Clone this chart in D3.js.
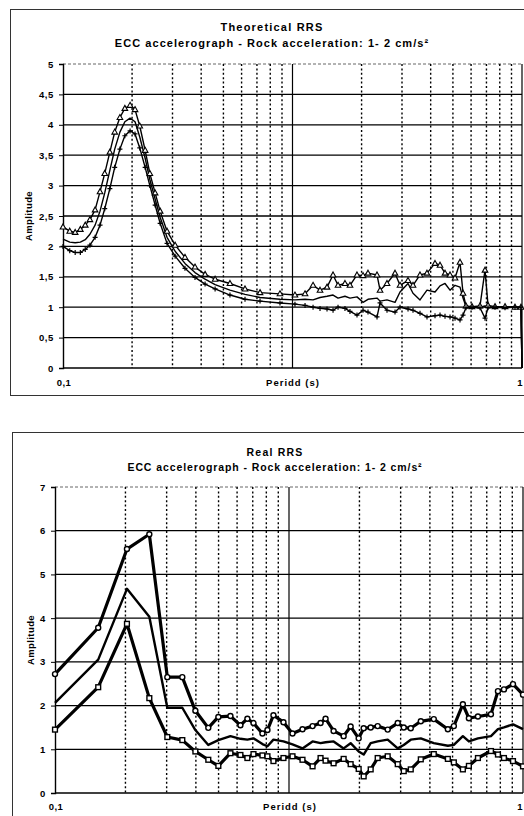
<!DOCTYPE html>
<html><head><meta charset="utf-8">
<script src="https://cdn.jsdelivr.net/npm/d3@7"></script>
<style>
body{margin:0;background:#fff}
svg{display:block}
text{font-family:"Liberation Sans",Arial,sans-serif;font-weight:bold;fill:#000}
</style>
</head><body>
<svg id="c" width="524" height="816"></svg>
<script>
// ---------- Theoretical RRS ----------
const topPeriods=[0.100,0.107,0.113,0.119,0.125,0.131,0.138,0.145,0.152,0.160,0.168,0.177,0.186,0.196,0.206,0.216,0.228,0.239,0.252,0.265,0.284,0.308,0.340,0.376,0.416,0.460,0.534,0.621,0.722,0.882,1.025,1.134,1.229,1.318,1.414,1.502,1.579,1.693,1.780,1.910,2.029,2.133,2.335,2.407,2.581,2.797,2.941,3.187,3.350,3.594,3.855,4.178,4.393,4.619,4.857,5.107,5.369,5.534,5.702,6.055,6.561,6.900,7.111,7.627,8.433,9.322,9.90,10.0];
const topUpper=[2.32,2.25,2.23,2.28,2.35,2.44,2.60,2.90,3.20,3.55,3.88,4.12,4.27,4.32,4.25,3.98,3.58,3.20,2.88,2.58,2.25,2.02,1.82,1.66,1.54,1.46,1.39,1.30,1.24,1.22,1.20,1.22,1.36,1.28,1.33,1.53,1.36,1.39,1.36,1.53,1.52,1.56,1.53,1.28,1.39,1.56,1.36,1.44,1.36,1.53,1.56,1.72,1.69,1.56,1.53,1.48,1.74,1.23,1.02,1.01,1.02,1.61,1.03,1.01,1.01,1.00,1.00,0];
const topMiddle=[2.12,2.07,2.06,2.07,2.11,2.20,2.35,2.58,2.88,3.25,3.60,3.88,4.05,4.11,4.05,3.80,3.45,3.10,2.78,2.48,2.15,1.92,1.72,1.57,1.46,1.37,1.28,1.21,1.16,1.13,1.12,1.13,1.12,1.16,1.18,1.20,1.15,1.18,1.15,1.17,1.08,1.13,1.15,1.10,1.12,1.08,1.25,1.39,1.23,1.12,1.28,1.25,1.35,1.39,1.28,1.36,1.33,1.15,1.01,1.00,1.00,1.02,1.00,1.00,1.00,1.00,1.00,0];
const topLower=[2.00,1.93,1.90,1.90,1.95,2.02,2.15,2.35,2.62,2.95,3.30,3.60,3.82,3.90,3.85,3.62,3.30,3.00,2.68,2.38,2.05,1.84,1.64,1.49,1.38,1.30,1.20,1.13,1.10,1.07,1.05,1.03,1.00,0.98,0.97,0.95,1.00,0.98,0.93,0.87,0.95,0.92,0.84,1.07,0.95,0.92,1.00,0.97,0.95,0.90,0.84,0.86,0.87,0.85,0.84,0.82,0.79,0.87,0.99,1.00,0.99,0.82,0.99,1.00,0.99,1.00,1.00,0];
const topYTicks=[0,0.5,1,1.5,2,2.5,3,3.5,4,4.5,5];

// ---------- Real RRS ----------
const botPeriods=[0.100,0.153,0.203,0.253,0.302,0.350,0.398,0.452,0.499,0.562,0.620,0.664,0.705,0.770,0.809,0.858,0.947,1.035,1.142,1.261,1.364,1.433,1.551,1.712,1.834,1.985,2.085,2.234,2.393,2.641,2.915,3.093,3.314,3.658,4.157,4.774,5.064,5.534,5.871,6.418,7.295,7.815,8.290,9.062,10.0];
const botUpper=[2.72,3.78,5.58,5.92,2.65,2.65,1.88,1.49,1.74,1.76,1.55,1.70,1.60,1.36,1.44,1.78,1.62,1.36,1.46,1.53,1.60,1.70,1.42,1.30,1.52,1.25,1.48,1.50,1.53,1.45,1.60,1.50,1.48,1.64,1.69,1.46,1.53,2.03,1.71,1.75,1.80,2.33,2.37,2.49,2.25];
const botMiddle=[2.06,3.05,4.67,4.03,1.95,1.95,1.44,1.10,1.21,1.30,1.24,1.22,1.25,1.12,1.07,1.22,1.18,1.11,1.02,1.18,1.14,1.16,1.18,1.02,1.14,0.95,0.88,1.14,1.18,1.22,1.02,1.10,1.22,1.25,1.14,1.08,1.10,1.30,1.18,1.25,1.30,1.46,1.50,1.57,1.46];
const botLower=[1.45,2.42,3.87,2.17,1.28,1.21,0.95,0.76,0.62,0.91,0.87,0.80,0.89,0.86,0.84,0.73,0.80,0.84,0.76,0.61,0.80,0.74,0.68,0.78,0.66,0.55,0.38,0.54,0.80,0.84,0.66,0.50,0.54,0.77,0.89,0.78,0.70,0.54,0.62,0.80,0.96,0.88,0.80,0.73,0.61];
const botYTicks=[0,1,2,3,4,5,6,7];

const xMinor=[0.2,0.3,0.4,0.5,0.6,0.7,0.8,0.9,2,3,4,5,6,7,8,9];
const xMajor=[1,10];
const xTickLabels=[[0.1,"0,1"],[10,"1"]];
const xTitle="Peridd (s)", yTitle="Amplitude";
const subTitle="ECC accelerograph - Rock acceleration: 1- 2 cm/s²";

const fmt=d3.formatLocale({decimal:",",thousands:".",grouping:[3],currency:["",""]}).format(".1~f");
const svg=d3.select("#c");

function triangle(g,cx,cy){g.append("path").attr("d",`M${cx},${cy-3}L${cx+2.8},${cy+2}L${cx-2.8},${cy+2}Z`).attr("fill","#fff").attr("stroke","#000").attr("stroke-width",1.1);}
function plus(g,cx,cy){g.append("path").attr("d",`M${cx-2.5},${cy}H${cx+2.5}M${cx},${cy-2.5}V${cy+2.5}`).attr("stroke","#000").attr("stroke-width",1.2);}
function circle(g,cx,cy){g.append("circle").attr("cx",cx).attr("cy",cy).attr("r",2.5).attr("fill","#fff").attr("stroke","#000").attr("stroke-width",1.4);}
function square(g,cx,cy){g.append("rect").attr("x",cx-2.4).attr("y",cy-2.4).attr("width",4.8).attr("height",4.8).attr("fill","#fff").attr("stroke","#000").attr("stroke-width",1.4);}

function chart(c){
  const g=svg.append("g");
  g.append("rect").attr("x",c.frame[0]+0.5).attr("y",c.frame[1]+0.5).attr("width",c.frame[2]).attr("height",c.frame[3])
    .attr("fill","none").attr("stroke","#333").attr("stroke-width",1);
  const x=d3.scaleLog().domain([0.1,10]).range([c.left,c.right]);
  const y=d3.scaleLinear().domain([0,c.yMax]).range([c.bottom,c.top]);
  g.append("text").attr("x",c.tx).attr("y",c.t1y).attr("text-anchor","middle").attr("font-size",c.tfs).attr("letter-spacing",c.tls).text(c.title);
  g.append("text").attr("x",c.tx).attr("y",c.t2y).attr("text-anchor","middle").attr("font-size",c.tfs).attr("letter-spacing",c.tls2).text(subTitle);
  c.yTicks.forEach(v=>{
    if(v===0) return;
    const top=v===c.yMax;
    g.append("line").attr("x1",c.left).attr("x2",c.right).attr("y1",y(v)).attr("y2",y(v))
      .attr("stroke",top?"#666":"#000").attr("stroke-width",top?1:1.3).attr("stroke-dasharray",top?"3,2":null);
  });
  xMinor.forEach(v=>{
    g.append("line").attr("x1",x(v)).attr("x2",x(v)).attr("y1",c.top).attr("y2",c.bottom)
      .attr("stroke","#000").attr("stroke-width",1.4).attr("stroke-dasharray","2,2.4");
  });
  xMajor.forEach(v=>{
    g.append("line").attr("x1",x(v)).attr("x2",x(v)).attr("y1",c.top).attr("y2",c.bottom)
      .attr("stroke","#000").attr("stroke-width",1.2);
  });
  const ya=d3.axisLeft(y).tickValues(c.yTicks).tickSize(4).tickFormat(fmt);
  const yg=g.append("g").attr("transform",`translate(${c.left},0)`).call(ya);
  yg.select(".domain").attr("stroke-width",1.4);
  yg.selectAll("text").attr("font-size",9.5).attr("font-family","Liberation Sans, Arial").attr("font-weight","bold").attr("letter-spacing",0.6).attr("dx",-2);
  g.append("line").attr("x1",c.left).attr("x2",c.right).attr("y1",c.bottom).attr("y2",c.bottom).attr("stroke","#000").attr("stroke-width",1.4);
  xTickLabels.forEach(([v,l],i)=>{
    g.append("text").attr("x",i===0?x(v)+c.xl0dx:523).attr("y",c.bottom+c.xlDy).attr("text-anchor",i===0?"middle":"end").attr("font-size",9.5).attr("letter-spacing",0.5).text(l);
  });
  g.append("text").attr("x",c.xtx).attr("y",c.bottom+c.xlDy).attr("text-anchor","middle").attr("font-size",9.5).attr("letter-spacing",1).text(xTitle);
  g.append("text").attr("transform",`translate(${c.ytx},${(c.top+c.bottom)/2}) rotate(-90)`).attr("text-anchor","middle").attr("font-size",9.5).attr("letter-spacing",0.4).text(yTitle);
  c.series.forEach(s=>{
    const data=c.periods.map((p,i)=>({p,v:s.values[i]}));
    g.append("path").datum(data).attr("fill","none").attr("stroke","#000").attr("stroke-width",s.w).attr("stroke-linejoin","round")
      .attr("d",d3.line().x(d=>x(d.p)).y(d=>y(d.v)));
    if(s.marker){
      const mg=g.append("g");
      data.forEach((d,i)=>{ if(i<data.length-(c.skipLast?1:0)) s.marker(mg,x(d.p),y(d.v)); });
    }
  });
}

chart({frame:[10,9,540,386],left:63,right:522,top:64,bottom:368,yMax:5,yTicks:topYTicks,
  tx:272,t1y:31,t2y:47,tfs:11,tls:1.2,tls2:1.05,title:"Theoretical RRS",xtx:293,xlDy:18,xl0dx:1,ytx:31.5,
  periods:topPeriods,skipLast:true,
  series:[{values:topMiddle,w:1.4},{values:topUpper,w:1.4,marker:triangle},{values:topLower,w:1.4,marker:plus}]});

chart({frame:[12,432,540,400],left:55,right:523,top:487,bottom:793,yMax:7,yTicks:botYTicks,
  tx:275,t1y:456,t2y:471,tfs:10.5,tls:1.2,tls2:0.9,title:"Real RRS",xtx:290,xlDy:17,xl0dx:1,ytx:33.5,
  periods:botPeriods,skipLast:false,
  series:[{values:botMiddle,w:2.4},{values:botUpper,w:3.2,marker:circle},{values:botLower,w:3.2,marker:square}]});
</script>
</body></html>
